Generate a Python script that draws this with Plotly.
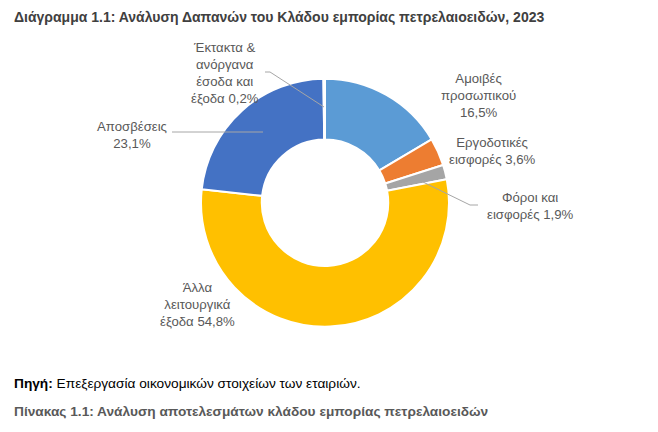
import plotly.graph_objects as go

W, H = 658, 432

categories = ["Αμοιβές προσωπικού", "Εργοδοτικές εισφορές", "Φόροι και εισφορές",
              "Άλλα λειτουργικά έξοδα", "Αποσβέσεις", "Έκτακτα & ανόργανα έσοδα και έξοδα"]
values = [16.5, 3.6, 1.9, 54.8, 23.1, 0.2]
label_texts = ["Αμοιβές<br>προσωπικού<br>16,5%",
               "Εργοδοτικές<br>εισφορές 3,6%",
               "Φόροι και<br>εισφορές 1,9%",
               "Άλλα<br>λειτουργικά<br>έξοδα 54,8%",
               "Αποσβέσεις<br>23,1%",
               "Έκτακτα &<br>ανόργανα<br>έσοδα και<br>έξοδα 0,2%"]
colors = ["#5B9BD5", "#ED7D31", "#A5A5A5", "#FFC000", "#4472C4", "#264478"]

title = "Διάγραμμα 1.1: Ανάλυση Δαπανών του Κλάδου εμπορίας πετρελαιοειδών, 2023"
source = "<b>Πηγή:</b> Επεξεργασία οικονομικών στοιχείων των εταιριών."
next_title = "Πίνακας 1.1: Ανάλυση αποτελεσμάτων κλάδου εμπορίας πετρελαιοειδών"

# layout geometry (pixels)
cx, cy, R = 325, 202.7, 124


def px(x):
    return x / W


def py(y):
    return 1 - y / H


fig = go.Figure(go.Pie(
    labels=categories, values=values, sort=False, direction="clockwise", rotation=0,
    hole=0.51, marker=dict(colors=colors, line=dict(color="white", width=2)),
    textinfo="none", hoverinfo="label+percent", showlegend=False,
    domain=dict(x=[px(cx - R), px(cx + R)], y=[py(cy + R), py(cy - R)]),
))

label_pos = [(478, 95), (492, 151), (530, 206), (197, 304), (132, 135), (225, 73)]
anns = []
for t, (x, y) in zip(label_texts, label_pos):
    anns.append(dict(text=t, x=px(x), y=py(y), xref="paper", yref="paper",
                     xanchor="center", yanchor="middle", showarrow=False, align="center",
                     font=dict(family="Liberation Sans, Arial", size=13.2, color="#595959")))

anns.append(dict(text="<b>" + title + "</b>", x=px(12), y=py(17), xref="paper", yref="paper",
                 xanchor="left", yanchor="middle", showarrow=False,
                 font=dict(family="Liberation Sans, Arial", size=14, color="#404040")))
anns.append(dict(text=source, x=px(12), y=py(383), xref="paper", yref="paper",
                 xanchor="left", yanchor="middle", showarrow=False,
                 font=dict(family="Liberation Sans, Arial", size=13.7, color="#000000")))
anns.append(dict(text="<b>" + next_title + "</b>", x=px(12), y=py(411), xref="paper", yref="paper",
                 xanchor="left", yanchor="middle", showarrow=False,
                 font=dict(family="Liberation Sans, Arial", size=13.7, color="#595959")))

leaders = [
    [(265, 72), (270, 72), (324, 107)],
    [(172, 132), (263, 132)],
    [(423, 182), (470, 205), (478, 205)],
]
shapes = []
for pts in leaders:
    path = "M " + " L ".join(f"{px(x)},{py(y)}" for x, y in pts)
    shapes.append(dict(type="path", path=path, xref="paper", yref="paper",
                       line=dict(color="#A6A6A6", width=1)))

fig.update_layout(width=W, height=H, margin=dict(l=0, r=0, t=0, b=0),
                  paper_bgcolor="white", plot_bgcolor="white",
                  annotations=anns, shapes=shapes)
fig.write_html("out.html")
